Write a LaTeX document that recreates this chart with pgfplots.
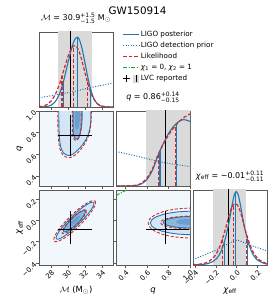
\documentclass[border=0pt]{standalone}
\usepackage{pgfplots}
\pgfplotsset{compat=1.18}
\usepackage{amsmath}
\usepackage{fontspec}
\setmainfont{DejaVu Sans}
\definecolor{tblue}{HTML}{1F77B4}
\definecolor{tred}{HTML}{D62728}
\definecolor{tgreen}{HTML}{2CA02C}
\definecolor{bandgray}{HTML}{DADADA}
\definecolor{bgtwod}{HTML}{F2F7FC}
\definecolor{fillout}{HTML}{D4E5F4}
\definecolor{fillin}{HTML}{8AB7DC}
\definecolor{fillcore}{HTML}{6A9FCF}
\definecolor{framegray}{HTML}{5A5A5A}
\tikzset{
 post/.style={tblue, line width=1.1bp},
 prior/.style={tblue, line width=1bp, dash pattern=on 1bp off 1.6bp},
 like/.style={tred, line width=1.2bp, dash pattern=on 3.5bp off 2bp},
 cpost/.style={tblue, line width=0.9bp},
 clike/.style={tred, line width=0.9bp, dash pattern=on 3bp off 1.8bp},
 lvc/.style={black, line width=1.1bp},
 gline/.style={tgreen, line width=1bp, dash pattern=on 4bp off 1.5bp on 1bp off 1.5bp},
}
\pgfplotsset{
 corner/.style={scale only axis, width=74bp, height=75bp, anchor=south west,
   axis line style={framegray, line width=0.6bp},
   tick style={framegray, line width=0.6bp},
   tick align=outside, major tick length=3bp, tick pos=left,
   ticklabel style={font=\fontsize{7}{8}\selectfont},
   label style={font=\fontsize{8.5}{10}\selectfont},
   title style={font=\fontsize{8}{9}\selectfont, at={(0.5,1)}, anchor=base, yshift=6bp}},
 oned/.style={corner, ymin=0, ymax=1, ytick=\empty},
 twod/.style={corner, axis background/.style={fill=bgtwod}},
 Mx/.style={xmin=26.56, xmax=35.3, xtick={28,30,32,34}},
 qx/.style={xmin=0.31, xmax=1.0, xtick={0.4,0.6,0.8,1.0}},
 cx/.style={xmin=-0.42, xmax=0.29, xtick={-0.4,-0.2,0,0.2}},
 qy/.style={ymin=0.31, ymax=1.0, ytick={0.4,0.6,0.8,1.0}},
 cy/.style={ymin=-0.42, ymax=0.29, ytick={-0.4,-0.2,0,0.2}},
 xrot/.style={xticklabel style={rotate=45, anchor=north east, inner sep=1bp}},
 yrot/.style={yticklabel style={rotate=45, anchor=east, inner sep=1bp}},
 xlab/.style={xlabel style={at={(axis description cs:0.5,-0.36)}, anchor=base}},
 ylab/.style={ylabel style={at={(axis description cs:-0.26,0.5)}, anchor=center}},
}
\begin{document}
\begin{tikzpicture}
\useasboundingbox (0bp,0bp) rectangle (275bp,304bp);
\node[font=\fontsize{10.4}{12}\selectfont] at (137.5bp,293.5bp) {GW150914};

% ---------- Panel A: chirp mass 1D
\begin{axis}[oned, Mx, xticklabels={}, at={(39bp,197bp)},
  title={$\mathcal{M}$ = 30.9$^{\text{+1.5}}_{\text{−1.5}}$ M$_\odot$},
  legend image code/.code={\draw[#1] (0bp,0bp) -- (16bp,0bp);},
  legend style={at={(1.085,1.055)}, anchor=north west, draw=none, fill=none,
    font=\fontsize{7.2}{8}\selectfont, legend cell align=left, row sep=1.6bp,
    nodes={inner sep=1.2bp, text height=5.4bp, text depth=1.5bp}}]
\addplot[draw=none, fill=bandgray, forget plot] coordinates {(28.76,0) (28.76,1.05) (32.8,1.05) (32.8,0)} --cycle;
\addplot[black, line width=1bp, forget plot] coordinates {(30.3,0) (30.3,1.05)};
\addplot[prior, smooth, forget plot] coordinates {(26.56,0.124) (28,0.15) (29.5,0.18) (31,0.215) (32.5,0.255) (34,0.29) (35.3,0.318)};
\addplot[post, smooth, forget plot] coordinates {(26.56,0.0004) (27.0,0.0017) (27.5,0.0073) (28.0,0.0257) (28.5,0.075) (29.0,0.181) (29.5,0.362) (30.0,0.598) (30.5,0.819) (30.8,0.903) (31.08,0.93) (31.3,0.905) (31.6,0.801) (32.0,0.582) (32.5,0.304) (33.0,0.121) (33.5,0.036) (34.0,0.0083) (34.5,0.0014) (35.3,0.0)};
\addplot[like, smooth, forget plot] coordinates {(26.56,0.004) (27.0,0.0115) (27.5,0.033) (28.0,0.081) (28.5,0.171) (29.0,0.314) (29.5,0.497) (30.0,0.679) (30.4,0.782) (30.8,0.82) (31.2,0.768) (31.6,0.630) (32.0,0.452) (32.5,0.248) (33.0,0.111) (33.5,0.040) (34.0,0.012) (34.5,0.003) (35.3,0.0003)};
\addplot[post, forget plot] coordinates {(29.48,0) (29.48,0.355)};
\addplot[post, forget plot] coordinates {(31.08,0) (31.08,0.93)};
\addplot[post, forget plot] coordinates {(32.6,0) (32.6,0.259)};
\addplot[like, forget plot] coordinates {(29.28,0) (29.28,0.416)};
\addplot[like, forget plot] coordinates {(30.68,0) (30.68,0.815)};
\addplot[like, forget plot] coordinates {(32.29,0) (32.29,0.334)};
\addlegendimage{tblue, line width=1.1bp}
\addlegendentry{LIGO posterior}
\addlegendimage{tblue, line width=1bp, dash pattern=on 1bp off 1.6bp}
\addlegendentry{LIGO detection prior}
\addlegendimage{tred, line width=1.2bp, dash pattern=on 3.5bp off 2bp}
\addlegendentry{Likelihood}
\addlegendimage{tgreen, line width=1bp, dash pattern=on 4bp off 1.5bp on 1bp off 1.5bp}
\addlegendentry{\textit{χ}\textsubscript{1} = 0, \textit{χ}\textsubscript{2} = 1}
\addlegendimage{legend image code/.code={\draw[black, line width=1.2bp] (0bp,0bp)--(7bp,0bp) (3.5bp,-3.5bp)--(3.5bp,3.5bp); \fill[bandgray] (10.5bp,-3.5bp) rectangle (15.5bp,3.5bp); \draw[black, line width=0.7bp] (13bp,-3.5bp)--(13bp,3.5bp);}}
\addlegendentry{LVC reported}
\end{axis}

% ---------- Panel B: q vs chirp mass
\begin{axis}[twod, Mx, qy, xticklabels={}, yticklabels={0.4,0.6,0.8,1.0}, yrot, ylab, at={(39bp,118bp)},
  ylabel={\textit{q}}]
\addplot[draw=none, fill=fillout, smooth] coordinates {(28.9,1.1) (28.9,0.9) (28.95,0.78) (29.05,0.7) (29.25,0.64) (29.6,0.605) (30.1,0.59) (30.6,0.605) (31.2,0.645) (31.8,0.70) (32.25,0.76) (32.55,0.83) (32.68,0.92) (32.7,1.1)} --cycle;
\addplot[draw=none, fill=fillin, smooth] coordinates {(30.6,1.1) (30.6,0.85) (30.65,0.78) (30.85,0.745) (31.1,0.74) (31.35,0.77) (31.55,0.84) (31.65,0.93) (31.65,1.1)} --cycle;
\addplot[draw=none, fill=fillcore, smooth] coordinates {(30.8,1.1) (30.8,0.9) (30.9,0.84) (31.1,0.83) (31.3,0.87) (31.42,0.95) (31.45,1.1)} --cycle;
\addplot[cpost, smooth] coordinates {(28.9,1.1) (28.9,0.9) (28.95,0.78) (29.05,0.7) (29.25,0.64) (29.6,0.605) (30.1,0.59) (30.6,0.605) (31.2,0.645) (31.8,0.70) (32.25,0.76) (32.55,0.83) (32.68,0.92) (32.7,1.1)};
\addplot[cpost, smooth] coordinates {(30.6,1.1) (30.6,0.85) (30.65,0.78) (30.85,0.745) (31.1,0.74) (31.35,0.77) (31.55,0.84) (31.65,0.93) (31.65,1.1)};
\addplot[clike, smooth] coordinates {(28.78,1.1) (28.78,0.9) (28.83,0.78) (28.93,0.69) (29.15,0.625) (29.55,0.585) (30.1,0.57) (30.65,0.585) (31.25,0.625) (31.85,0.685) (32.3,0.75) (32.6,0.83) (32.72,0.92) (32.75,1.1)};
\addplot[clike, smooth] coordinates {(30.5,1.1) (30.5,0.85) (30.55,0.77) (30.75,0.735) (31.0,0.73) (31.3,0.76) (31.5,0.83) (31.55,0.93) (31.55,1.1)};
\addplot[lvc] coordinates {(28.76,0.775) (32.8,0.775)};
\addplot[lvc] coordinates {(30.3,0.59) (30.3,0.96)};
\addplot[only marks, mark=*, mark size=1.1bp, black] coordinates {(30.3,0.775)};
\end{axis}

% ---------- Panel C: q 1D
\begin{axis}[oned, qx, xticklabels={}, at={(116bp,118bp)},
  title={\textit{q} = 0.86$^{\text{+0.14}}_{\text{−0.15}}$}]
\addplot[draw=none, fill=bandgray] coordinates {(0.59,0) (0.59,1.05) (1.01,1.05) (1.01,0)} --cycle;
\addplot[black, line width=1bp] coordinates {(0.775,0) (0.775,1.05)};
\addplot[prior, smooth] coordinates {(0.31,0.46) (0.5,0.40) (0.7,0.33) (0.85,0.29) (1.0,0.26)};
\addplot[post, smooth] coordinates {(0.31,0) (0.45,0.002) (0.5,0.008) (0.55,0.03) (0.6,0.09) (0.65,0.21) (0.7,0.40) (0.75,0.56) (0.8,0.70) (0.85,0.80) (0.9,0.865) (0.94,0.885) (0.97,0.877) (1.0,0.862)};
\addplot[like, smooth] coordinates {(0.31,0) (0.45,0.004) (0.5,0.012) (0.55,0.04) (0.6,0.11) (0.65,0.23) (0.7,0.41) (0.75,0.56) (0.8,0.68) (0.85,0.78) (0.9,0.86) (0.95,0.92) (1.0,0.96)};
\addplot[post] coordinates {(0.72,0) (0.72,0.464)};
\addplot[post] coordinates {(0.875,0) (0.875,0.833)};
\addplot[like] coordinates {(0.705,0) (0.705,0.425)};
\addplot[like] coordinates {(0.865,0) (0.865,0.804)};
\end{axis}

% ---------- Panel D: chi_eff vs chirp mass
\begin{axis}[twod, Mx, cy, xticklabels={28,30,32,34}, yticklabels={−0.4,−0.2,0.0,0.2}, xrot, yrot, xlab, ylab,
  at={(39bp,39bp)}, xlabel={$\mathcal{M}$ (M$_\odot$)}, ylabel={\textit{χ}\textsubscript{eff}}]
\addplot[draw=none, fill=fillout, smooth] coordinates {(33.03,0.173) (33.02,0.147) (32.68,0.099) (32.06,0.036) (31.24,-0.033) (30.37,-0.097) (29.56,-0.146) (28.94,-0.173) (28.61,-0.173) (28.62,-0.147) (28.96,-0.099) (29.58,-0.036) (30.40,0.033) (31.27,0.097) (32.08,0.146) (32.70,0.173) (33.03,0.173)} --cycle;
\addplot[draw=none, fill=fillin, smooth] coordinates {(32.02,0.095) (32.04,0.079) (31.86,0.049) (31.51,0.012) (31.05,-0.028) (30.54,-0.065) (30.06,-0.092) (29.69,-0.106) (29.48,-0.105) (29.46,-0.089) (29.64,-0.059) (29.99,-0.022) (30.45,0.018) (30.96,0.055) (31.44,0.082) (31.81,0.096) (32.02,0.095)} --cycle;
\addplot[draw=none, fill=fillcore, smooth] coordinates {(31.39,0.047) (31.34,0.024) (30.97,-0.013) (30.50,-0.042) (30.21,-0.047) (30.26,-0.024) (30.63,0.013) (31.10,0.042) (31.39,0.047)} --cycle;
\addplot[cpost, smooth] coordinates {(33.03,0.173) (33.02,0.147) (32.68,0.099) (32.06,0.036) (31.24,-0.033) (30.37,-0.097) (29.56,-0.146) (28.94,-0.173) (28.61,-0.173) (28.62,-0.147) (28.96,-0.099) (29.58,-0.036) (30.40,0.033) (31.27,0.097) (32.08,0.146) (32.70,0.173) (33.03,0.173)};
\addplot[cpost, smooth] coordinates {(32.02,0.095) (32.04,0.079) (31.86,0.049) (31.51,0.012) (31.05,-0.028) (30.54,-0.065) (30.06,-0.092) (29.69,-0.106) (29.48,-0.105) (29.46,-0.089) (29.64,-0.059) (29.99,-0.022) (30.45,0.018) (30.96,0.055) (31.44,0.082) (31.81,0.096) (32.02,0.095)};
\addplot[clike, smooth] coordinates {(33.20,0.185) (33.23,0.154) (32.88,0.099) (32.22,0.028) (31.33,-0.048) (30.36,-0.118) (29.46,-0.170) (28.76,-0.197) (28.36,-0.195) (28.33,-0.164) (28.68,-0.109) (29.34,-0.038) (30.23,0.038) (31.20,0.108) (32.10,0.160) (32.80,0.187) (33.20,0.185)};
\addplot[clike, smooth] coordinates {(32.12,0.100) (32.14,0.081) (31.95,0.049) (31.57,0.007) (31.06,-0.037) (30.50,-0.077) (29.97,-0.107) (29.56,-0.122) (29.32,-0.120) (29.30,-0.101) (29.49,-0.069) (29.87,-0.027) (30.38,0.017) (30.94,0.057) (31.47,0.087) (31.88,0.102) (32.12,0.100)};
\addplot[lvc] coordinates {(28.76,-0.08) (32.8,-0.08)};
\addplot[lvc] coordinates {(30.3,-0.222) (30.3,0.092)};
\addplot[only marks, mark=*, mark size=1.1bp, black] coordinates {(30.3,-0.08)};
\end{axis}

% ---------- Panel E: chi_eff vs q
\begin{axis}[twod, qx, cy, xticklabels={0.4,0.6,0.8,1.0}, yticklabels={}, xrot, xlab,
  at={(116bp,39bp)}, xlabel={\textit{q}}]
\addplot[draw=none, fill=fillout, smooth] coordinates {(1.02,0.090) (0.887,0.083) (0.769,0.064) (0.682,0.034) (0.643,0.007) (0.630,-0.022) (0.643,-0.051) (0.682,-0.078) (0.769,-0.108) (0.887,-0.127) (1.02,-0.134) (1.1,-0.134) (1.1,0.09)} --cycle;
\addplot[draw=none, fill=fillin, smooth] coordinates {(1.02,0.039) (0.928,0.036) (0.846,0.026) (0.786,0.0115) (0.759,-0.002) (0.750,-0.016) (0.759,-0.030) (0.786,-0.0435) (0.846,-0.058) (0.928,-0.068) (1.02,-0.071) (1.1,-0.071) (1.1,0.039)} --cycle;
\addplot[draw=none, fill=fillcore, smooth] coordinates {(1.02,0.018) (0.924,0.011) (0.890,0.003) (0.87,-0.012) (0.890,-0.027) (0.924,-0.035) (1.02,-0.042) (1.1,-0.042) (1.1,0.018)} --cycle;
\addplot[cpost, smooth] coordinates {(1.02,0.090) (0.887,0.083) (0.769,0.064) (0.682,0.034) (0.643,0.007) (0.630,-0.022) (0.643,-0.051) (0.682,-0.078) (0.769,-0.108) (0.887,-0.127) (1.02,-0.134)};
\addplot[cpost, smooth] coordinates {(1.02,0.039) (0.928,0.036) (0.846,0.026) (0.786,0.0115) (0.759,-0.002) (0.750,-0.016) (0.759,-0.030) (0.786,-0.0435) (0.846,-0.058) (0.928,-0.068) (1.02,-0.071)};
\addplot[clike, smooth] coordinates {(1.02,0.120) (0.880,0.111) (0.756,0.087) (0.665,0.049) (0.624,0.014) (0.610,-0.023) (0.624,-0.060) (0.665,-0.095) (0.756,-0.133) (0.880,-0.157) (1.02,-0.166)};
\addplot[clike, smooth] coordinates {(1.02,0.044) (0.919,0.040) (0.830,0.0295) (0.765,0.013) (0.735,-0.002) (0.725,-0.018) (0.735,-0.034) (0.765,-0.049) (0.830,-0.0655) (0.919,-0.076) (1.02,-0.080)};
\addplot[gline] coordinates {(0.31,0.2366) (0.34,0.2537) (0.37,0.2701) (0.40,0.2857) (0.42,0.2958)};
\addplot[lvc] coordinates {(0.59,-0.08) (0.99,-0.08)};
\addplot[lvc] coordinates {(0.775,-0.222) (0.775,0.092)};
\addplot[only marks, mark=*, mark size=1.1bp, black] coordinates {(0.775,-0.08)};
\end{axis}

% ---------- Panel F: chi_eff 1D
\begin{axis}[oned, cx, xticklabels={−0.4,−0.2,0.0,0.2}, xrot, xlab, at={(193bp,39bp)},
  xlabel={\textit{χ}\textsubscript{eff}},
  title={\textit{χ}\textsubscript{eff} = −0.01$^{\text{+0.11}}_{\text{−0.11}}$}]
\addplot[draw=none, fill=bandgray] coordinates {(-0.225,0) (-0.225,1.05) (0.09,1.05) (0.09,0)} --cycle;
\addplot[black, line width=1bp] coordinates {(-0.08,0) (-0.08,1.05)};
\addplot[prior, smooth] coordinates {(-0.42,0.07) (-0.3,0.14) (-0.2,0.2) (-0.1,0.27) (0.0,0.33) (0.1,0.28) (0.2,0.23) (0.29,0.19)};
\addplot[post, smooth] coordinates {(-0.42,0.0015) (-0.325,0.008) (-0.275,0.02) (-0.225,0.05) (-0.185,0.10) (-0.155,0.17) (-0.125,0.28) (-0.105,0.38) (-0.085,0.50) (-0.065,0.64) (-0.045,0.80) (-0.025,0.93) (-0.005,0.98) (0.015,0.93) (0.035,0.80) (0.055,0.64) (0.075,0.50) (0.095,0.38) (0.115,0.28) (0.145,0.17) (0.175,0.10) (0.215,0.05) (0.265,0.02) (0.29,0.013)};
\addplot[like, smooth] coordinates {(-0.42,0.004) (-0.315,0.02) (-0.255,0.06) (-0.205,0.13) (-0.165,0.24) (-0.135,0.36) (-0.105,0.50) (-0.075,0.66) (-0.045,0.78) (-0.015,0.82) (0.015,0.78) (0.045,0.66) (0.075,0.50) (0.105,0.36) (0.135,0.24) (0.175,0.13) (0.225,0.06) (0.285,0.02) (0.29,0.019)};
\addplot[post] coordinates {(-0.12,0) (-0.12,0.305)};
\addplot[post] coordinates {(-0.01,0) (-0.01,0.97)};
\addplot[post] coordinates {(0.10,0) (0.10,0.355)};
\addplot[like] coordinates {(-0.14,0) (-0.14,0.34)};
\addplot[like] coordinates {(-0.03,0) (-0.03,0.80)};
\addplot[like] coordinates {(0.09,0) (0.09,0.43)};
\end{axis}
\end{tikzpicture}
\end{document}
